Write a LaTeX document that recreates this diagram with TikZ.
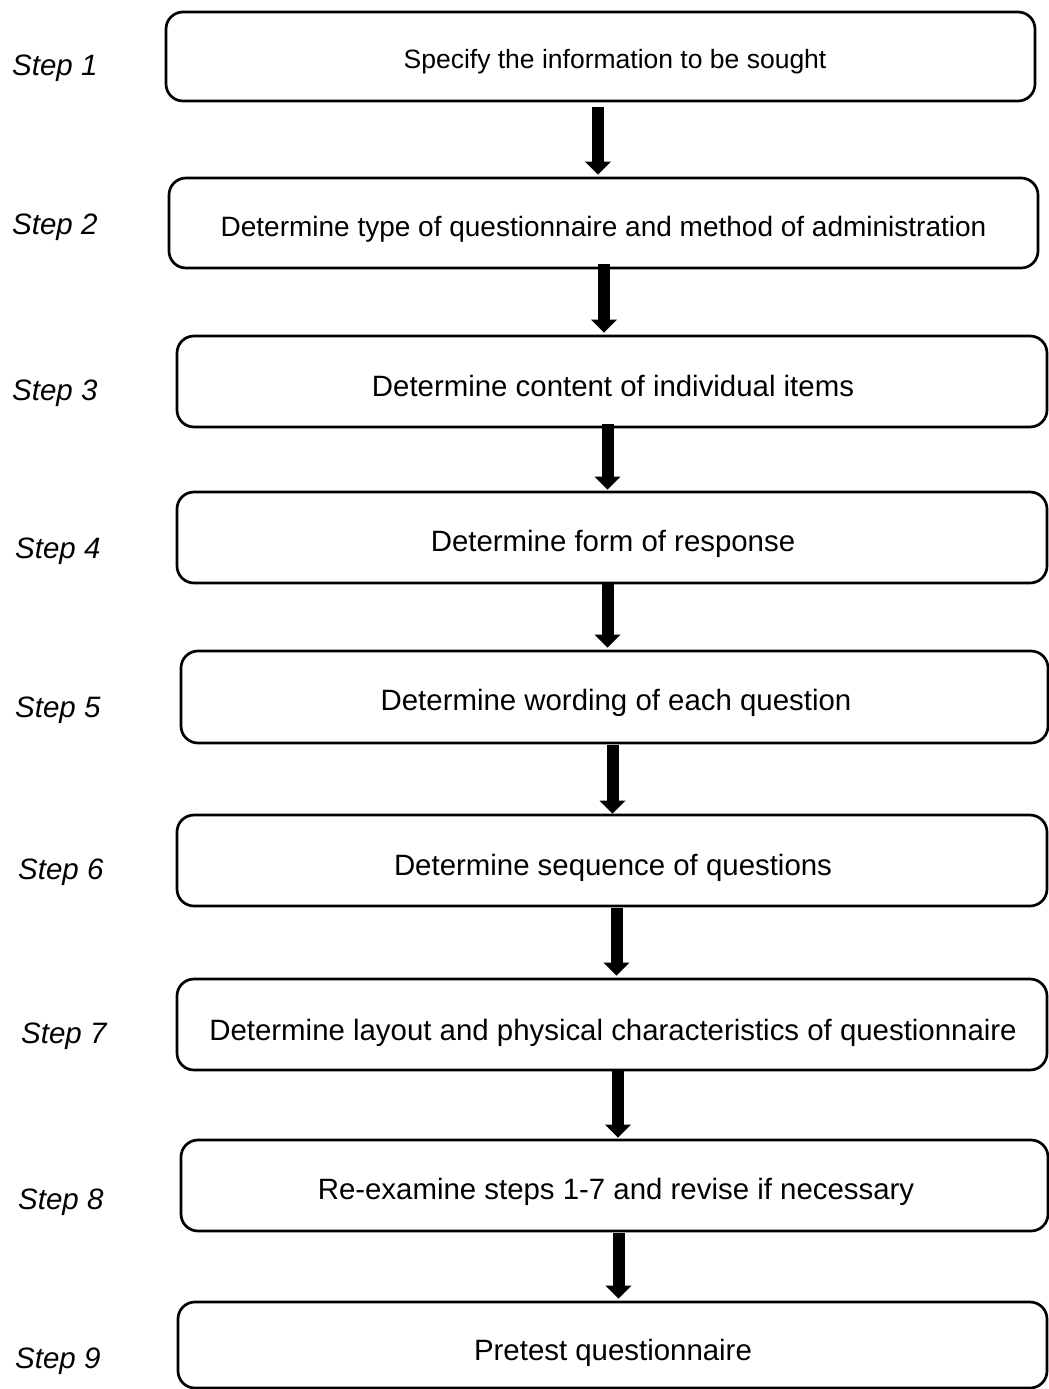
\documentclass[tikz,border=0pt]{standalone}
\usepackage{fontspec}
\setmainfont{Liberation Sans}
\usetikzlibrary{arrows.meta}
\begin{document}
\begin{tikzpicture}[x=1pt,y=-1pt,
  stepbox/.style={draw=black, line width=2.7pt, rounded corners=17pt,
    inner sep=0pt, minimum width=#1},
  stepbox/.default=869pt,
  boxtext/.style={anchor=base, inner sep=0pt, font=\fontsize{#1}{32}\selectfont},
  boxtext/.default=29.4,
  steplabel/.style={anchor=base west, inner sep=0pt, font=\fontsize{29.5}{34}\selectfont\itshape},
  flowarrow/.style={line width=12pt, -{Triangle[width=25pt,length=13pt]}}]
\useasboundingbox (0,0) rectangle (1049,1389);

% boxes
\node[stepbox=869pt, minimum height=89pt] (b1) at (600.5,56.5) {};
\node[stepbox=869pt, minimum height=90pt] (b2) at (603.5,223) {};
\node[stepbox=870pt, minimum height=91pt] (b3) at (612,381.5) {};
\node[stepbox=870pt, minimum height=91pt] (b4) at (612,537.5) {};
\node[stepbox=867pt, minimum height=92pt] (b5) at (614.5,697) {};
\node[stepbox=870pt, minimum height=91pt] (b6) at (612,860.5) {};
\node[stepbox=870pt, minimum height=91pt] (b7) at (612,1024.5) {};
\node[stepbox=867pt, minimum height=91pt] (b8) at (614.5,1185.5) {};
\node[stepbox=869pt, minimum height=86pt] (b9) at (612.5,1345) {};

% box texts
\node[boxtext=26.5] (t1) at (615,68) {Specify the information to be sought};
\node[boxtext=28] (t2) at (603.5,236) {Determine type of questionnaire and method of administration};
\node[boxtext] (t3) at (613,396) {Determine content of individual items};
\node[boxtext] (t4) at (613,551) {Determine form of response};
\node[boxtext] (t5) at (616,710) {Determine wording of each question};
\node[boxtext] (t6) at (613,875) {Determine sequence of questions};
\node[boxtext] (t7) at (613,1040) {Determine layout and physical characteristics of questionnaire};
\node[boxtext] (t8) at (616,1199) {Re-examine steps 1-7 and revise if necessary};
\node[boxtext] (t9) at (613,1360) {Pretest questionnaire};

% step labels
\node[steplabel] (s1) at (12,76) {Step 1};
\node[steplabel] (s2) at (12,234) {Step 2};
\node[steplabel] (s3) at (12,400) {Step 3};
\node[steplabel] (s4) at (15,558) {Step 4};
\node[steplabel] (s5) at (15,717) {Step 5};
\node[steplabel] (s6) at (18,879) {Step 6};
\node[steplabel] (s7) at (21,1043) {Step 7};
\node[steplabel] (s8) at (18,1209) {Step 8};
\node[steplabel] (s9) at (15,1368) {Step 9};

% arrows between steps
\draw[flowarrow, shorten <=5pt, shorten >=2pt] (598,0 |- b1.south) -- (598,0 |- b2.north);
\draw[flowarrow, shorten <=-5pt, shorten >=2pt] (604,0 |- b2.south) -- (604,0 |- b3.north);
\draw[flowarrow, shorten <=-4pt, shorten >=1pt] (607.5,0 |- b3.south) -- (607.5,0 |- b4.north);
\draw[flowarrow, shorten <=-2pt, shorten >=2pt] (607.5,0 |- b4.south) -- (607.5,0 |- b5.north);
\draw[flowarrow, shorten <=1pt, shorten >=0pt] (612.5,0 |- b5.south) -- (612.5,0 |- b6.north);
\draw[flowarrow, shorten <=1pt, shorten >=2pt] (616.5,0 |- b6.south) -- (616.5,0 |- b7.north);
\draw[flowarrow, shorten <=-2pt, shorten >=1pt] (618,0 |- b7.south) -- (618,0 |- b8.north);
\draw[flowarrow, shorten <=1pt, shorten >=2pt] (618.5,0 |- b8.south) -- (618.5,0 |- b9.north);
\end{tikzpicture}
\end{document}
